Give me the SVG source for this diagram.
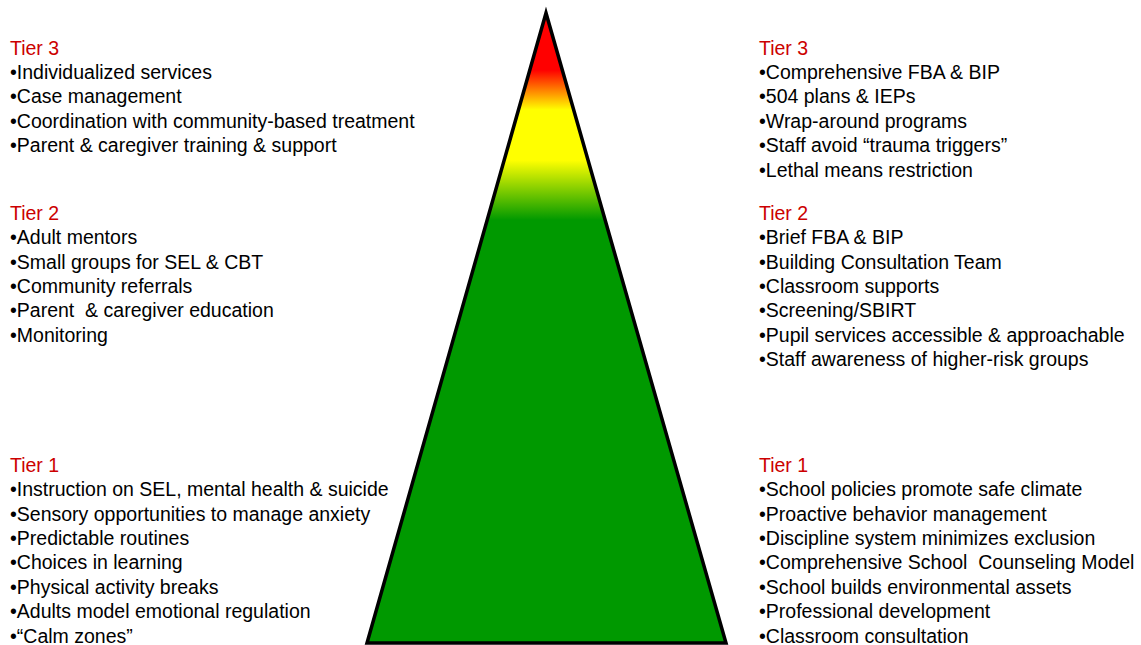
<svg xmlns="http://www.w3.org/2000/svg" width="1141" height="645" viewBox="0 0 1141 645">
<style>
text{font-family:"Liberation Sans",Arial,sans-serif;font-size:19.5px;fill:#000}
.h{fill:#cc0000}
</style>
<defs>
<linearGradient id="g" x1="0" y1="12" x2="0" y2="643" gradientUnits="userSpaceOnUse">
<stop offset="0" stop-color="#ff0000"/>
<stop offset="0.092" stop-color="#ff0000"/>
<stop offset="0.155" stop-color="#ffff00"/>
<stop offset="0.235" stop-color="#ffff00"/>
<stop offset="0.33" stop-color="#009900"/>
<stop offset="1" stop-color="#009900"/>
</linearGradient>
</defs>
<rect width="1141" height="645" fill="#fff"/>
<g id="pyramid">
<polygon points="546,13 367,643 726,643" fill="url(#g)" stroke="#000" stroke-width="3.5" stroke-linejoin="miter"/>
</g>
<g id="left-tier3">
<text x="10" y="54.5" class="h">Tier 3</text>
<text x="10" y="78.5">•Individualized services</text>
<text x="10" y="103">•Case management</text>
<text x="10" y="127.5">•Coordination with community-based treatment</text>
<text x="10" y="152">•Parent &amp; caregiver training &amp; support</text>
</g>
<g id="left-tier2">
<text x="10" y="220" class="h">Tier 2</text>
<text x="10" y="244">•Adult mentors</text>
<text x="10" y="268.5">•Small groups for SEL &amp; CBT</text>
<text x="10" y="293">•Community referrals</text>
<text x="10" y="317" xml:space="preserve">•Parent  &amp; caregiver education</text>
<text x="10" y="341.5">•Monitoring</text>
</g>
<g id="left-tier1">
<text x="10" y="472" class="h">Tier 1</text>
<text x="10" y="496">•Instruction on SEL, mental health &amp; suicide</text>
<text x="10" y="520.5">•Sensory opportunities to manage anxiety</text>
<text x="10" y="545">•Predictable routines</text>
<text x="10" y="569">•Choices in learning</text>
<text x="10" y="593.5">•Physical activity breaks</text>
<text x="10" y="618">•Adults model emotional regulation</text>
<text x="10" y="642.5">•“Calm zones”</text>
</g>
<g id="right-tier3">
<text x="759" y="54.5" class="h">Tier 3</text>
<text x="759" y="78.5">•Comprehensive FBA &amp; BIP</text>
<text x="759" y="103">•504 plans &amp; IEPs</text>
<text x="759" y="127.5">•Wrap-around programs</text>
<text x="759" y="152">•Staff avoid “trauma triggers”</text>
<text x="759" y="176.5">•Lethal means restriction</text>
</g>
<g id="right-tier2">
<text x="759" y="220" class="h">Tier 2</text>
<text x="759" y="244">•Brief FBA &amp; BIP</text>
<text x="759" y="268.5">•Building Consultation Team</text>
<text x="759" y="293">•Classroom supports</text>
<text x="759" y="317">•Screening/SBIRT</text>
<text x="759" y="341.5">•Pupil services accessible &amp; approachable</text>
<text x="759" y="366">•Staff awareness of higher-risk groups</text>
</g>
<g id="right-tier1">
<text x="759" y="472" class="h">Tier 1</text>
<text x="759" y="496">•School policies promote safe climate</text>
<text x="759" y="520.5">•Proactive behavior management</text>
<text x="759" y="545">•Discipline system minimizes exclusion</text>
<text x="759" y="569" xml:space="preserve">•Comprehensive School  Counseling Model</text>
<text x="759" y="593.5">•School builds environmental assets</text>
<text x="759" y="618">•Professional development</text>
<text x="759" y="642.5">•Classroom consultation</text>
</g>
</svg>
